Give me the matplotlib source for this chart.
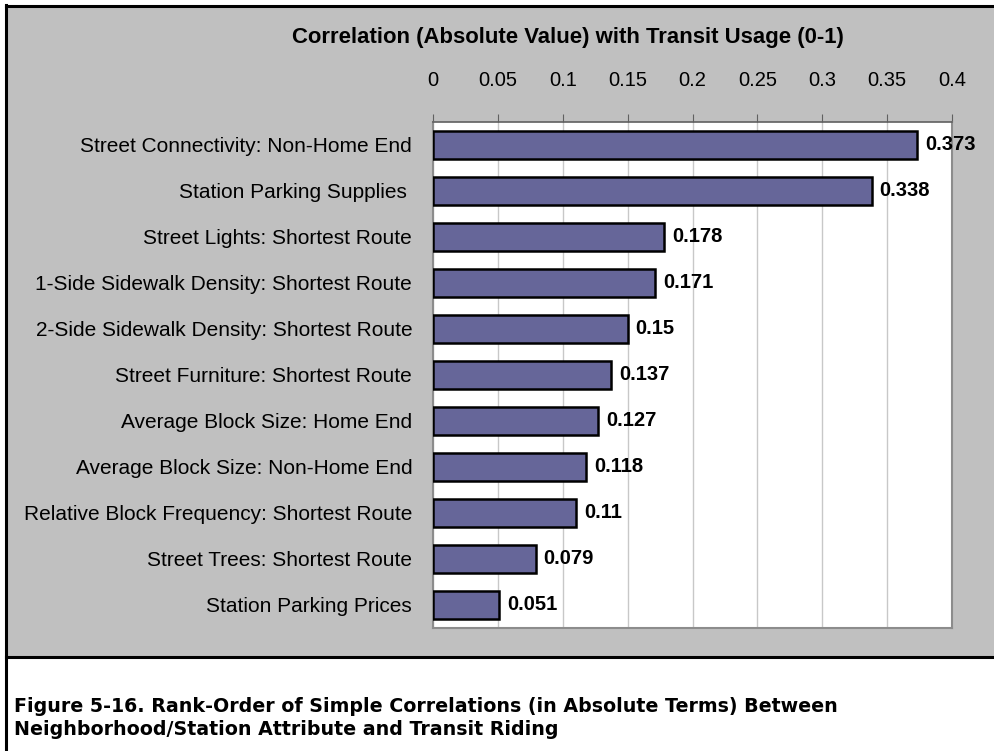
import matplotlib
matplotlib.use("Agg")
import matplotlib.pyplot as plt
from matplotlib.patches import Rectangle
from matplotlib.lines import Line2D

plt.rcParams['font.family'] = ['Liberation Sans', 'DejaVu Sans']

# data, top to bottom
labels = [
    "Street Connectivity: Non-Home End",
    "Station Parking Supplies ",
    "Street Lights: Shortest Route",
    "1-Side Sidewalk Density: Shortest Route",
    "2-Side Sidewalk Density: Shortest Route",
    "Street Furniture: Shortest Route",
    "Average Block Size: Home End",
    "Average Block Size: Non-Home End",
    "Relative Block Frequency: Shortest Route",
    "Street Trees: Shortest Route",
    "Station Parking Prices",
]
values = [0.373, 0.338, 0.178, 0.171, 0.15, 0.137, 0.127, 0.118, 0.11, 0.079, 0.051]
xticks = [0, 0.05, 0.1, 0.15, 0.2, 0.25, 0.3, 0.35, 0.4]
xticklabels = ["0", "0.05", "0.1", "0.15", "0.2", "0.25", "0.3", "0.35", "0.4"]
title = "Correlation (Absolute Value) with Transit Usage (0-1)"
caption = ("Figure 5-16. Rank-Order of Simple Correlations (in Absolute Terms) Between\n"
           "Neighborhood/Station Attribute and Transit Riding")

W, H = 995, 751
fig = plt.figure(figsize=(W / 100, H / 100), dpi=100)
fig.patch.set_facecolor("white")


# pixel coords -> figure fraction
def fx(px):
    return px / W


def fy(py):
    return 1 - py / H


# gray chart panel and black frame
fig.patches.append(Rectangle((fx(6), fy(657)), 1 - fx(6), fy(6) - fy(657),
                             transform=fig.transFigure, facecolor="#c0c0c0",
                             edgecolor="none", zorder=-5))
fig.lines.append(Line2D([fx(6), 1], [fy(5.5), fy(5.5)], transform=fig.transFigure,
                        color="black", lw=2.2))
fig.lines.append(Line2D([fx(6), 1], [fy(657), fy(657)], transform=fig.transFigure,
                        color="black", lw=2.2))
fig.lines.append(Line2D([fx(6.5), fx(6.5)], [0, fy(5)], transform=fig.transFigure,
                        color="black", lw=2.2))

ax = fig.add_axes([fx(433), fy(628), fx(952) - fx(433), fy(122) - fy(628)])
ax.set_facecolor("white")

y = list(range(len(values)))
ax.barh(y, values, height=0.63, color="#666699", edgecolor="black", linewidth=1.8, zorder=3)
for yi, v in zip(y, values):
    ax.text(v + 0.0062, yi, f"{v:g}", va="center", ha="left", fontsize=14.5,
            fontweight="bold", zorder=4)

ax.set_ylim(len(values) - 0.5, -0.5)
ax.set_xlim(0, 0.4)
ax.set_yticks(y)
ax.set_yticklabels(labels, fontsize=15)
ax.tick_params(axis="y", length=0, pad=15)

ax.xaxis.tick_top()
ax.set_xticks(xticks)
ax.set_xticklabels(xticklabels, fontsize=14.5)
ax.tick_params(axis="x", length=5.8, color="#606060", pad=17)
ax.xaxis.grid(True, color="#c8c8c8", lw=1, zorder=0)

for s in ["left", "right", "bottom"]:
    ax.spines[s].set_color("#8c8c8c")
    ax.spines[s].set_linewidth(1.5)
ax.spines["top"].set_color("#606060")
ax.spines["top"].set_linewidth(1.2)

fig.text(fx(568), fy(38), title, ha="center", va="center", fontsize=15.9, fontweight="bold")

fig.text(fx(14), fy(718), caption, ha="left", va="center", fontsize=13.7,
         fontweight="bold", family=["DejaVu Sans"], linespacing=1.25)

fig.savefig("out.png", dpi=100)
